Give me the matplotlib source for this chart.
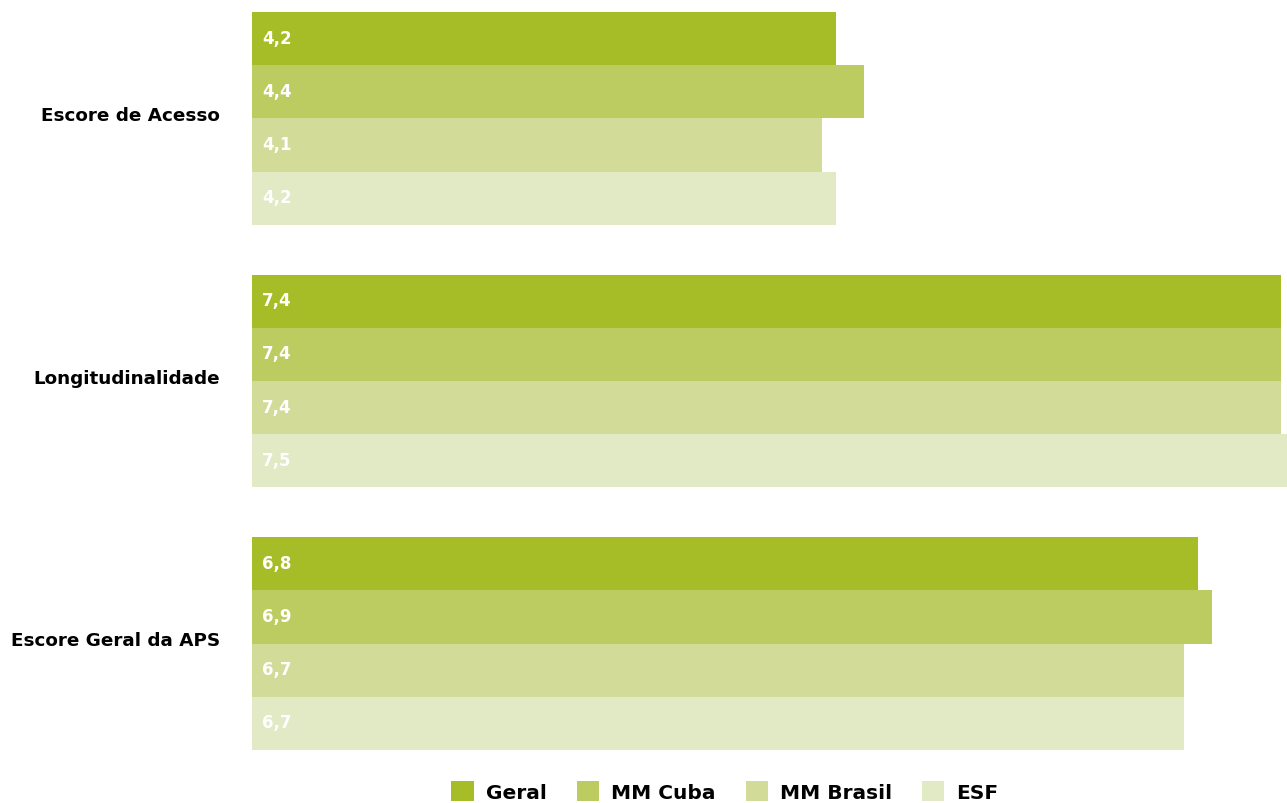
import numpy as np
import matplotlib
matplotlib.use("Agg")
import matplotlib.pyplot as plt
from matplotlib.patches import Patch

# data
categories = ["Escore de Acesso", "Longitudinalidade", "Escore Geral da APS"]
series = ["Geral", "MM Cuba", "MM Brasil", "ESF"]
values = [
    [4.2, 4.4, 4.1, 4.2],   # Escore de Acesso
    [7.4, 7.4, 7.4, 7.5],   # Longitudinalidade
    [6.8, 6.9, 6.7, 6.7],   # Escore Geral da APS
]
colors = ["#a7bd28", "#bccc61", "#d2dc98", "#e2e9c5"]

plt.rcParams["font.family"] = ["DejaVu Sans"]

W, H = 1287, 804
fig = plt.figure(figsize=(W / 100, H / 100), dpi=100)
ax = fig.add_axes([252 / W, 1 - 751 / H, 1 - 252 / W, (751 - 13) / H])

step = 4.93  # group pitch in bar-heights
for g, row in enumerate(values):
    for i, v in enumerate(row):
        y = g * step + i + 0.5
        ax.barh(y, v, height=1.0, color=colors[i], edgecolor="none")
        ax.annotate(f"{v:.1f}".replace(".", ","), xy=(0, y), xytext=(7.2, 0.7),
                    textcoords="offset points", ha="left", va="center",
                    color="white", fontsize=12, fontweight="bold")

ax.set_xlim(0, 1035 / 139.1)
ax.set_ylim(2 * step + 4, 0)
ax.set_yticks([g * step + 1.9 for g in range(len(categories))])
ax.set_yticklabels(categories, fontsize=13.2, fontweight="bold")
ax.tick_params(axis="y", length=0, pad=23)
ax.set_xticks([])
for s in ax.spines.values():
    s.set_visible(False)

handles = [Patch(facecolor=c, edgecolor="none") for c in colors]
leg = fig.legend(handles, series, loc="lower center", bbox_to_anchor=(725 / W, -0.021),
                 ncol=4, frameon=False, prop={"size": 14.5, "weight": "bold"},
                 handlelength=1.1, handleheight=1.1, handletextpad=0.6, columnspacing=1.5)

fig.savefig("out.png", dpi=100)
